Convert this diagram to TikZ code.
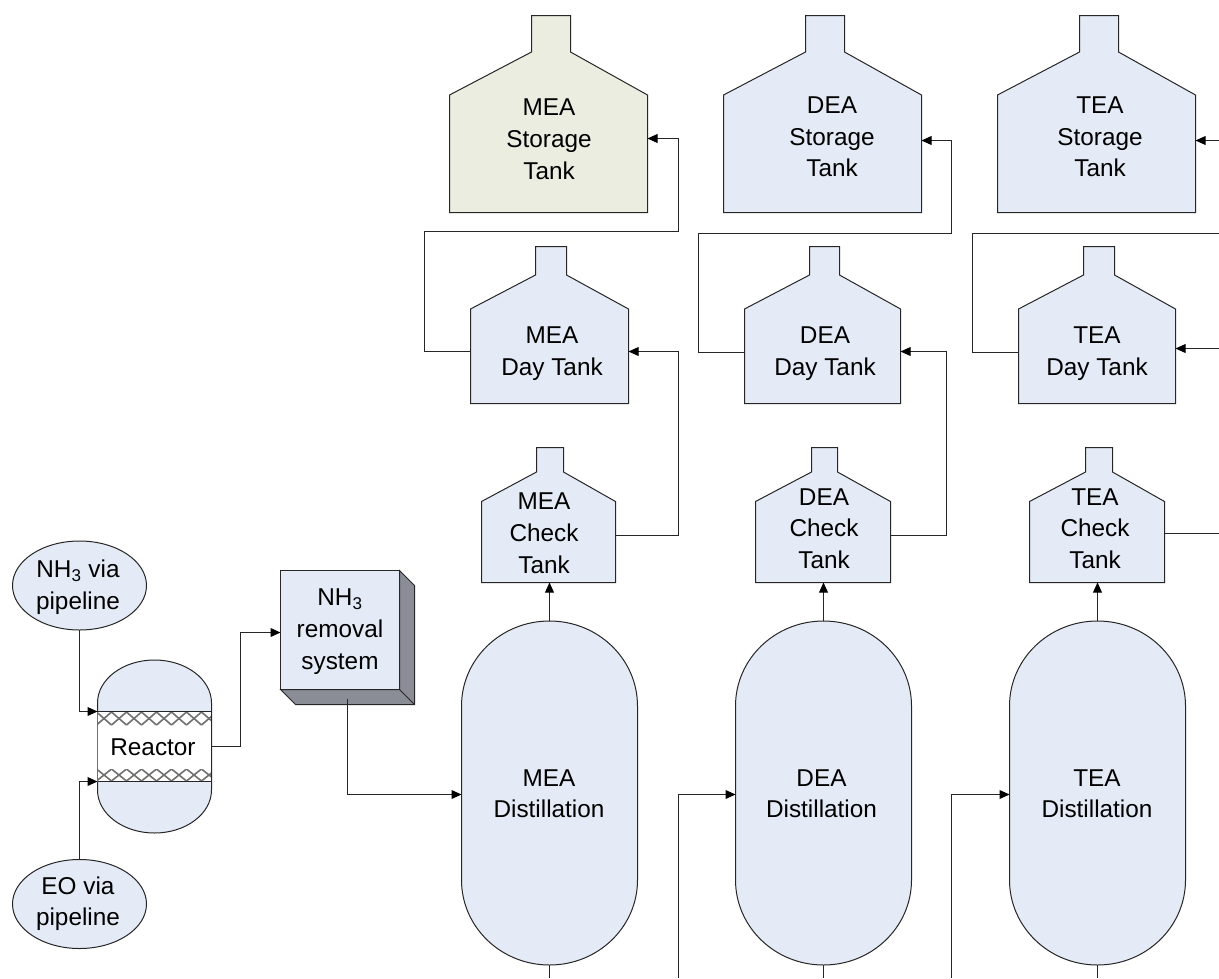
\documentclass[tikz,border=0pt]{standalone}
\usepackage{fontspec}
\setmainfont{Liberation Sans}
\usetikzlibrary{arrows.meta,fit,shapes.geometric}
\definecolor{tankblue}{HTML}{E4EBF6}
\definecolor{tankolive}{HTML}{EBEDE0}
\definecolor{sidegray}{HTML}{8A8D96}
\definecolor{linecol}{HTML}{262626}
\definecolor{meshgray}{HTML}{707070}
\tikzset{
  outline/.style={draw=linecol,line width=0.75pt,line join=miter},
  anchorbox/.style={inner sep=0pt,outer sep=0pt},
  lbl/.style={inner sep=0pt,outer sep=0pt,align=center,
    font=\fontsize{18.25}{23.75}\selectfont,
    execute at begin node=\strut,execute at end node=\strut},
  flow/.style={draw=linecol,line width=0.75pt,-{Triangle[length=7.5pt,width=6.6pt,color=black]}},
  plainflow/.style={draw=linecol,line width=0.75pt},
  oval/.style={ellipse,outline,fill=tankblue,inner sep=0pt,outer sep=0pt,minimum width=100.5pt,minimum height=66.75pt},
  mesh/.style={draw=meshgray,line width=1.2pt}
}
% #1 id, #2 fill, #3 left, #4 right, #5 neck left, #6 neck right; uses \ya top, \yb shoulder, \yc body, \yd bottom
\newcommand{\tank}[6]{%
  \path[outline,fill=#2] (#5,\ya) -- (#6,\ya) -- (#6,\yb) -- (#4,\yc) -- (#4,\yd) -- (#3,\yd) -- (#3,\yc) -- (#5,\yb) -- cycle;
  \node[anchorbox,fit={(#3,\yc)(#4,\yd)}] (#1) {};
}
% #1 id, #2 left, #3 right
\newcommand{\column}[3]{%
  \path[outline,fill=tankblue] (#2,706) arc[start angle=180,end angle=0,x radius=66pt,y radius=63.75pt]
     -- (#3,880) arc[start angle=0,end angle=-180,x radius=66pt,y radius=63.75pt] -- cycle;
  \node[anchorbox,fit={(#2,621)(#3,965)}] (#1) {};
}
\begin{document}
\begin{tikzpicture}[x=0.75pt,y=-0.75pt]
\useasboundingbox (0,0) rectangle (1219,978);

% storage tanks
\def\ya{15.5}\def\yb{52}\def\yc{95}\def\yd{212.5}
\tank{meast}{tankolive}{449.5}{647.5}{531.5}{570.5}
\tank{deast}{tankblue}{723.5}{921.5}{805.5}{844.5}
\tank{teast}{tankblue}{997.5}{1195.5}{1079.5}{1118.5}
% day tanks
\def\ya{246.5}\def\yb{275}\def\yc{309}\def\yd{403.5}
\tank{meaday}{tankblue}{470.5}{628.5}{535.5}{566.5}
\tank{deaday}{tankblue}{744.5}{900.5}{809.5}{839.5}
\tank{teaday}{tankblue}{1018.5}{1175.5}{1083.5}{1114.5}
% check tanks
\def\ya{447.5}\def\yb{472}\def\yc{501.5}\def\yd{582.5}
\tank{meack}{tankblue}{481.5}{615.5}{536.5}{563.5}
\tank{deack}{tankblue}{755.5}{890.5}{811.5}{837.5}
\tank{teack}{tankblue}{1029.5}{1164.5}{1085.5}{1112.5}
% distillation columns
\column{meadist}{461.5}{637.5}
\column{deadist}{735.5}{911.5}
\column{teadist}{1009.5}{1185.5}

% feeds
\node[oval] (nh3feed) at (79.5,585.5) {};
\node[oval] (eofeed) at (79.5,904) {};

% reactor
\path[outline,fill=tankblue] (97.5,703) arc[start angle=180,end angle=0,x radius=42.75pt,y radius=32.25pt]
   -- (211.5,790) arc[start angle=0,end angle=-180,x radius=42.75pt,y radius=32.25pt] -- cycle;
\fill[white] (97.5,712) rectangle (211.5,781);
\begin{scope}
  \clip (97.5,712) rectangle (211.5,725);
  \foreach \i in {0,...,7}{
    \draw[mesh] (96.5+15*\i,712) -- (111.5+15*\i,725);
    \draw[mesh] (96.5+15*\i,725) -- (111.5+15*\i,712);
  }
\end{scope}
\begin{scope}
  \clip (97.5,769) rectangle (211.5,781);
  \foreach \i in {0,...,7}{
    \draw[mesh] (96.5+15*\i,769) -- (111.5+15*\i,781);
    \draw[mesh] (96.5+15*\i,781) -- (111.5+15*\i,769);
  }
\end{scope}
\draw[outline] (97.5,711.5) -- (211.5,711.5);
\draw[outline] (97.5,781.5) -- (211.5,781.5);
\draw[draw=meshgray,line width=0.5pt] (97.5,711.5) -- (97.5,781.5);
\draw[draw=linecol,line width=0.75pt] (211.5,711.5) -- (211.5,781.5);
\node[anchorbox,fit={(97.5,660)(211.5,833)}] (reactor) {};

% NH3 removal box
\path[draw=linecol,line width=0.75pt,fill=sidegray] (399.5,570.5) -- (414.5,585.5) -- (414.5,704.5) -- (295.5,704.5) -- (280.5,689.5) -- (399.5,689.5) -- cycle;
\draw[draw=linecol,line width=0.75pt] (399.5,689.5) -- (414.5,704.5);
\path[outline,fill=tankblue] (280.5,570.5) rectangle (399.5,689.5);
\node[anchorbox,fit={(280.5,570.5)(399.5,689.5)}] (nh3box) {};

% labels
\node[lbl] (tmeast) at (549,144) {MEA\\Storage\\Tank};
\node[lbl] (tdeast) at (832,141.7) {DEA\\Storage\\Tank};
\node[lbl] (tteast) at (1100,141.7) {TEA\\Storage\\Tank};
\node[lbl] (tmeaday) at (552,356.2) {MEA\\Day Tank};
\node[lbl] (tdeaday) at (825,356.2) {DEA\\Day Tank};
\node[lbl] (tteaday) at (1097,356.2) {TEA\\Day Tank};
\node[lbl] (tmeack) at (544,537.9) {MEA\\Check\\Tank};
\node[lbl] (tdeack) at (824,533.2) {DEA\\Check\\Tank};
\node[lbl] (tteack) at (1095,533.2) {TEA\\Check\\Tank};
\node[lbl] (tmeadist) at (549,798.2) {MEA\\Distillation};
\node[lbl] (tdeadist) at (821.5,798.2) {DEA\\Distillation};
\node[lbl] (tteadist) at (1097,798.2) {TEA\\Distillation};
\node[lbl] (tnh3) at (78,589.6) {NH\textsubscript{3} via\\pipeline};
\node[lbl] (teo) at (78,906) {EO via\\pipeline};
\node[lbl] (treactor) at (153,749) {Reactor};
\node[lbl] (tbox) at (340,634) {NH\textsubscript{3}\\removal\\system};

% connector ends
\coordinate (rinA) at (97.5,711.5);
\coordinate (rinB) at (97.5,781.5);
\coordinate (boxin) at (280.5,632.5);
\coordinate (boxout) at (347.5,699);
\coordinate (meaflow) at (461.5,794.5);
\coordinate (deaflow) at (735.5,794.5);
\coordinate (teaflow) at (1009.5,794.5);
\coordinate (deasrc) at (678.5,978);
\coordinate (teasrc) at (951.5,978);
\coordinate (meabot) at (549.5,978);
\coordinate (deabot) at (823.5,978);
\coordinate (teabot) at (1097.5,978);
\coordinate (meackout) at (615.5,535.5);
\coordinate (deackout) at (890.5,535.5);
\coordinate (teackout) at (1164.5,533.5);
\coordinate (teackedge) at (1219,533.5);
\coordinate (meadayin) at (628.5,351.5);
\coordinate (deadayin) at (900.5,351.5);
\coordinate (teadayin) at (1175.5,348.5);
\coordinate (teadaysrc) at (1219,348.5);
\coordinate (meadayout) at (470.5,351.5);
\coordinate (deadayout) at (744.5,352.5);
\coordinate (teadayout) at (1018.5,352.5);
\coordinate (meaupA) at (424.5,231.5);
\coordinate (deaupA) at (698.5,233.5);
\coordinate (teaupA) at (972.5,233.5);
\coordinate (teaupB) at (1219,233.5);
\coordinate (meastin) at (647.5,138.5);
\coordinate (deastin) at (921.5,140.5);
\coordinate (teastin) at (1195.5,140.5);
\coordinate (teastsrc) at (1219,140.5);

% connectors
\draw[flow] (nh3feed.south) |- (rinA);
\draw[flow] (eofeed.north) |- (rinB);
\draw[flow] (reactor.east) -- +(29,0) |- (boxin);
\draw[flow] (boxout) |- (meaflow);
\draw[flow] (deasrc) |- (deaflow);
\draw[flow] (teasrc) |- (teaflow);
\draw[plainflow] (meadist.south) -- (meabot);
\draw[plainflow] (deadist.south) -- (deabot);
\draw[plainflow] (teadist.south) -- (teabot);
\draw[flow] (meadist.north) -- (meadist.north |- meack.south);
\draw[flow] (deadist.north) -- (deadist.north |- deack.south);
\draw[flow] (teadist.north) -- (teadist.north |- teack.south);
\draw[flow] (meackout) -- (678.5,535.5) |- (meadayin);
\draw[flow] (deackout) -- (946.5,535.5) |- (deadayin);
\draw[plainflow] (teackout) -- (teackedge);
\draw[flow] (teadaysrc) -- (teadayin);
\draw[flow] (meadayout) -| (meaupA) -- (678.5,231.5) |- (meastin);
\draw[flow] (deadayout) -| (deaupA) -- (951.5,233.5) |- (deastin);
\draw[plainflow] (teadayout) -| (teaupA) -- (teaupB);
\draw[flow] (teastsrc) -- (teastin);
\end{tikzpicture}
\end{document}
